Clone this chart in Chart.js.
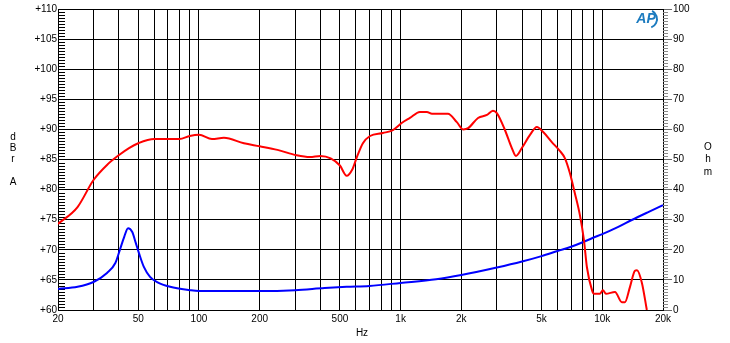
<!DOCTYPE html>
<html>
<head>
<meta charset="utf-8">
<script src="https://cdn.jsdelivr.net/npm/chart.js@4/dist/chart.umd.min.js"></script>
<style>
  html, body { margin: 0; padding: 0; background: #fff; }
  #wrap { width: 730px; height: 343px; }
</style>
</head>
<body>
<div id="wrap"><canvas id="grafico"></canvas></div>
<script>
// Frequency response (dBrA) - red curve
const splFreq = [20, 25, 30, 35, 40, 45, 50, 60, 70, 80, 90, 100, 116, 133, 167, 200, 245, 305, 355, 400,
  450, 500, 540, 575, 607, 650, 705, 817, 916, 1016, 1112, 1246, 1350, 1430, 1716, 1900, 2040, 2160,
  2420, 2680, 2870, 3000, 3290, 3560, 3730, 3990, 4380, 4740, 5080, 5620, 6170, 6530, 6900, 7310,
  7740, 8110, 8390, 8890, 9090, 9730, 10070, 10430, 11560, 12510, 12950, 13710, 14520, 14860, 15720, 16630];
const splDb = [74.3, 77.1, 81.6, 84.1, 85.7, 86.9, 87.7, 88.4, 88.4, 88.4, 88.9, 89.1, 88.4, 88.6, 87.7, 87.2, 86.6, 85.7, 85.4, 85.6,
  85.2, 84.0, 82.3, 83.3, 85.4, 87.7, 88.9, 89.4, 89.9, 91.1, 91.9, 92.9, 92.9, 92.6, 92.6, 91.2, 90.0, 90.2,
  91.9, 92.4, 93.1, 92.7, 89.9, 86.9, 85.6, 86.9, 89.1, 90.4, 89.6, 87.9, 86.4, 85.2, 82.8, 79.4,
  75.8, 71.6, 67.1, 63.3, 62.7, 62.7, 63.3, 62.7, 63.0, 61.3, 61.3, 63.8, 66.5, 66.6, 64.5, 60.0];

// Impedance (Ohm) - blue curve
const impFreq = [20, 25, 30, 35, 38.5, 40.5, 42.6, 44.5, 46.7, 48.6, 50.4, 53.3, 57.2, 62, 72, 90, 100, 200, 300,
  420, 540, 700, 1000, 1500, 2000, 3000, 4000, 5000, 6000, 7000, 8000, 9000, 10000, 12000, 14000, 17000, 20000];
const impOhm = [7.0, 7.7, 9.3, 12.3, 15.6, 19.9, 24.3, 27.2, 25.9, 22.3, 18.9, 14.3, 11.0, 9.3, 7.7, 6.6, 6.3, 6.3, 6.6,
  7.3, 7.7, 8.0, 9.0, 10.2, 11.6, 14.1, 16.1, 17.9, 19.6, 21.0, 22.5, 24.0, 25.2, 27.6, 29.9, 32.6, 34.8];

// Eixo X: linhas de grade e rótulos
const gradeX = [20, 30, 40, 50, 60, 70, 80, 90, 100, 200, 300, 400, 500, 600, 700, 800, 900,
  1000, 2000, 3000, 4000, 5000, 6000, 7000, 8000, 9000, 10000, 20000];
const rotulosX = { 20: '20', 50: '50', 100: '100', 200: '200', 500: '500', 1000: '1k', 2000: '2k', 5000: '5k', 10000: '10k', 20000: '20k' };

// Marcas menores dos eixos (a cada 0,5 dB e a cada 1 ohm)
const marcasDb = [];
for (let i = 1; i < 100; i++) if (i % 10 !== 0) marcasDb.push(60 + i / 2);
const marcasOhm = [];
for (let v = 1; v < 100; v++) if (v % 10 !== 0) marcasOhm.push(v);

const fonte = { family: "'Liberation Sans', Arial, sans-serif", size: 10 };

const extras = {
  id: 'extras',
  beforeDatasetsDraw(chart) {
    const ctx = chart.ctx;
    const a = chart.chartArea;
    const sy = chart.scales.y;
    const sy1 = chart.scales.y1;
    ctx.save();
    ctx.lineWidth = 1;
    ctx.strokeStyle = '#000';
    ctx.beginPath();
    marcasDb.forEach(v => {
      const y = Math.round(sy.getPixelForValue(v)) + 0.5;
      ctx.moveTo(a.left, y);
      ctx.lineTo(a.left + 7, y);
    });
    ctx.stroke();
    ctx.strokeStyle = '#888';
    ctx.beginPath();
    marcasOhm.forEach(v => {
      const y = Math.round(sy1.getPixelForValue(v)) + 0.5;
      ctx.moveTo(a.right, y);
      ctx.lineTo(a.right + 5, y);
    });
    ctx.stroke();
    ctx.restore();
  },
  afterDraw(chart) {
    const ctx = chart.ctx;
    ctx.save();
    ctx.fillStyle = '#000';
    ctx.font = "10px 'Liberation Sans', Arial, sans-serif";
    ctx.textAlign = 'center';
    ctx.textBaseline = 'middle';
    'dBr A'.split('').forEach((c, i) => ctx.fillText(c, 13, 137 + i * 11.3));
    'Ohm'.split('').forEach((c, i) => ctx.fillText(c, 708, 147 + i * 12.5));
    ctx.fillText('Hz', 362, 333);
    // logo AP
    ctx.fillStyle = '#1c7bbf';
    ctx.strokeStyle = '#1c7bbf';
    ctx.font = "italic bold 14px 'Liberation Sans', Arial, sans-serif";
    ctx.fillText('AP', 646, 19);
    ctx.lineWidth = 2;
    ctx.beginPath(); ctx.arc(648, 19, 9, -1.1, 1.2); ctx.stroke();
    ctx.restore();
  }
};

const ctxGrafico = document.getElementById('grafico').getContext('2d');
new Chart(ctxGrafico, {
  type: 'line',
  data: {
    datasets: [{
      label: 'dBrA',
      data: splFreq.map((f, i) => ({ x: f, y: splDb[i] })),
      borderColor: '#ff0000', borderWidth: 2, pointRadius: 0,
      cubicInterpolationMode: 'monotone', yAxisID: 'y'
    }, {
      label: 'Ohm',
      data: impFreq.map((f, i) => ({ x: f, y: impOhm[i] })),
      borderColor: '#0000ff', borderWidth: 2, pointRadius: 0,
      cubicInterpolationMode: 'monotone', yAxisID: 'y1'
    }]
  },
  options: {
    responsive: true, maintainAspectRatio: false, animation: false,
    layout: { padding: { top: 9, left: 0, right: 0, bottom: 0 } },
    plugins: { legend: { display: false }, tooltip: { enabled: false } },
    scales: {
      x: {
        type: 'logarithmic', min: 20, max: 20000,
        afterBuildTicks: s => { s.ticks = gradeX.map(v => ({ value: v })); },
        afterFit: s => { s.height = 33; },
        grid: { color: '#000', lineWidth: 1, tickLength: 0 },
        border: { color: '#000' },
        ticks: { autoSkip: false, maxRotation: 0, color: '#000', font: fonte, padding: 3, callback: v => rotulosX[v] || '' }
      },
      y: {
        position: 'left', min: 60, max: 110,
        afterFit: s => { s.width = 58; },
        grid: { color: '#000', lineWidth: 1, tickLength: 0 },
        border: { color: '#000' },
        ticks: { stepSize: 5, color: '#000', font: fonte, padding: 1, callback: v => '+' + v }
      },
      y1: {
        position: 'right', min: 0, max: 100,
        afterFit: s => { s.width = 67; },
        grid: { drawOnChartArea: false, color: '#666', tickLength: 9 },
        border: { color: '#000' },
        ticks: { stepSize: 10, color: '#000', font: fonte, padding: 1 }
      }
    }
  },
  plugins: [extras]
});
</script>
</body>
</html>
